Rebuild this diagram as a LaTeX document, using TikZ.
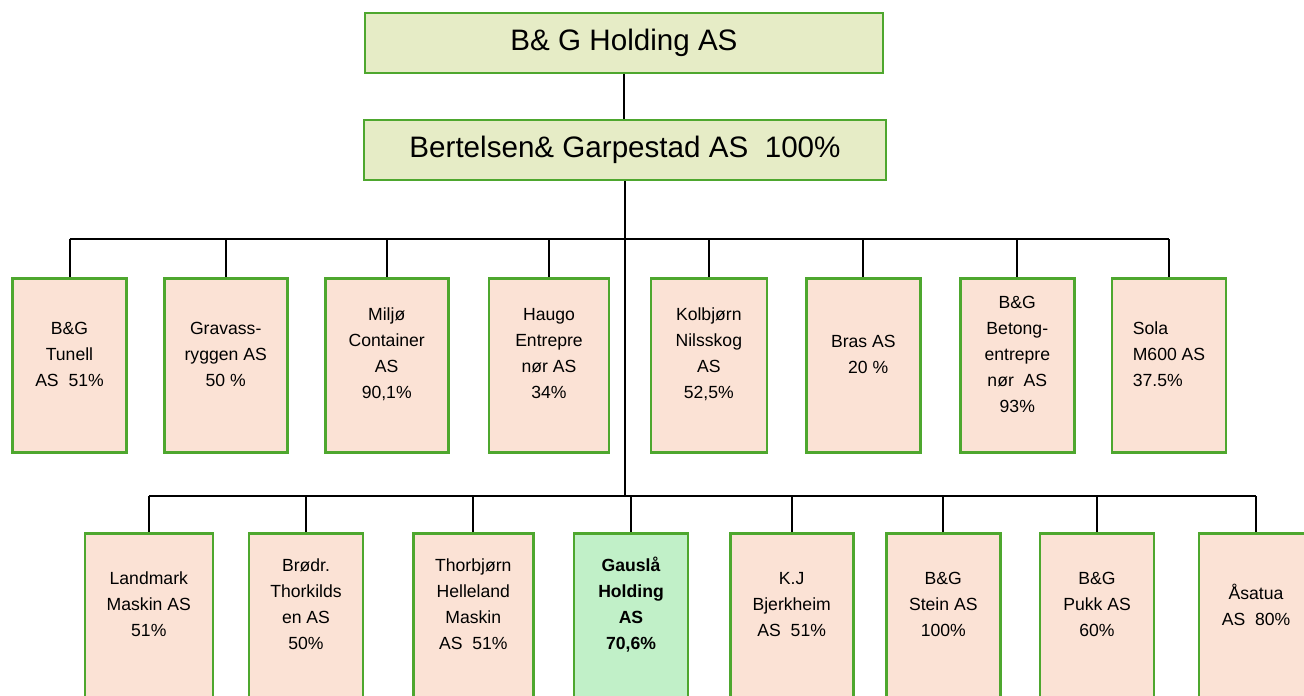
\documentclass[tikz,border=0pt]{standalone}
\usepackage{fontspec}
\setmainfont{Liberation Sans}
\usetikzlibrary{positioning}
\definecolor{edgegreen}{HTML}{4EA72E}
\definecolor{headfill}{HTML}{E6ECC6}
\definecolor{firmfill}{HTML}{FBE2D5}
\definecolor{keyfill}{HTML}{C1F0C8}
\tikzset{
  headbox/.style={draw=edgegreen, fill=headfill, line width=1.3pt, minimum height=30pt, inner sep=0pt, font=\fontsize{14.8}{17}\selectfont},
  firmbox/.style={draw=edgegreen, fill=firmfill, line width=1.3pt, minimum width=57pt, minimum height=87pt, inner sep=0pt},
  firmtext/.style={align=center, inner sep=0pt, font=\fontsize{8.8}{13}\selectfont},
  upper/.style={firmtext, yshift=5.75pt},
  lower/.style={firmtext, yshift=8pt},
  link/.style={line width=1pt, black}
}

\begin{document}
\begin{tikzpicture}[x=0.5pt, y=-0.5pt]
  \useasboundingbox (0,0) rectangle (1304,695);
  \clip (0,0) rectangle (1304,695);

  % holding levels
  \node[headbox, minimum width=259pt] (holding) at (624,43) {B\&\ G Holding AS};
  \node[headbox, minimum width=261pt] (bertelsen) at (625,150) {Bertelsen\&\ Garpestad AS\ \ 100\%};

  % first row of companies
  \node[firmbox, label={[upper]center:{B\&G\\Tunell\\AS\ \ 51\%}}] (tunell) at (69.5,365.5) {};
  \node[firmbox, minimum width=61.5pt, label={[upper]center:{Gravass-\\ryggen AS\\50 \%}}] (gravass) at (225.7,365.5) {};
  \node[firmbox, minimum width=61.5pt, label={[upper]center:{Miljø\\Container\\AS\\90,1\%}}] (miljo) at (386.7,365.5) {};
  \node[firmbox, minimum width=60pt, label={[upper]center:{Haugo\\Entrepre\\nør AS\\34\%}}] (haugo) at (549,365.5) {};
  \node[firmbox, minimum width=58pt, label={[upper]center:{Kolbjørn\\Nilsskog\\AS\\52,5\%}}] (kolbjorn) at (708.8,365.5) {};
  \node[firmbox, label={[upper]center:{Bras AS\\\ \ 20 \%}}] (bras) at (863.3,365.5) {};
  \node[firmbox, label={[upper]center:{B\&G\\Betong-\\entrepre\\nør\ \ AS\\93\%}}] (betong) at (1017.3,365.5) {};
  \node[firmbox, label={[upper, align=left]center:{Sola\\M600 AS\\37.5\%}}] (sola) at (1169,365.5) {};

  % second row of companies
  \node[firmbox, minimum width=64pt, label={[lower]center:{Landmark\\Maskin AS\\51\%}}] (landmark) at (148.8,620.5) {};
  \node[firmbox, label={[lower]center:{Brødr.\\Thorkilds\\en AS\\50\%}}] (brodr) at (306,620.5) {};
  \node[firmbox, minimum width=60pt, label={[lower]center:{Thorbjørn\\Helleland\\Maskin\\AS\ \ 51\%}}] (thorbjorn) at (473.3,620.5) {};
  \node[firmbox, fill=keyfill, label={[lower, font=\fontsize{8.8}{13}\selectfont\bfseries]center:{Gauslå\\Holding\\AS\\70,6\%}}] (gausla) at (631,620.5) {};
  \node[firmbox, minimum width=61.5pt, label={[lower]center:{K.J\\Bjerkheim\\AS\ \ 51\%}}] (kj) at (791.7,620.5) {};
  \node[firmbox, label={[lower]center:{B\&G\\Stein AS\\100\%}}] (stein) at (943.3,620.5) {};
  \node[firmbox, label={[lower]center:{B\&G\\Pukk AS\\60\%}}] (pukk) at (1097,620.5) {};
  \node[firmbox, label={[lower]center:{Åsatua\\AS\ \ 80\%}}] (asatua) at (1256,620.5) {};

  % connectors
  \coordinate (rowone) at (0,239);
  \coordinate (rowtwo) at (0,496);
  \draw[link] (holding.south) -- (holding.south |- bertelsen.north);
  \draw[link] (bertelsen.south) -- (bertelsen.south |- rowtwo);
  \draw[link] (tunell.north |- rowone) -- (sola.north |- rowone);
  \draw[link] (landmark.north |- rowtwo) -- (asatua.north |- rowtwo);
  \foreach \firm in {tunell,gravass,miljo,haugo,kolbjorn,bras,betong,sola}{
    \draw[link] (\firm.north |- rowone) -- (\firm.north);
  };
  \foreach \firm in {landmark,brodr,thorbjorn,gausla,kj,stein,pukk,asatua}{
    \draw[link] (\firm.north |- rowtwo) -- (\firm.north);
  };
\end{tikzpicture}
\end{document}
